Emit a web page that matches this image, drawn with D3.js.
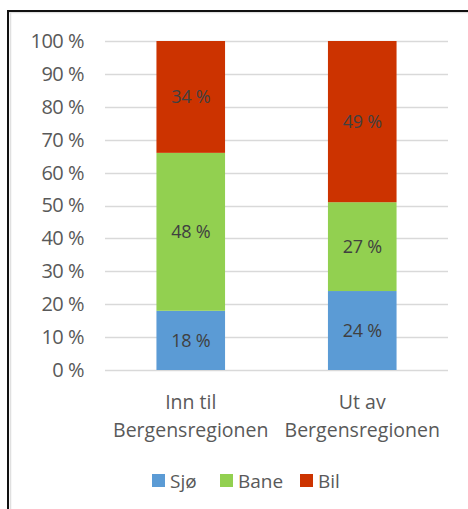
<!DOCTYPE html>
<html>
<head>
<meta charset="utf-8">
<script src="https://cdn.jsdelivr.net/npm/d3@7"></script>
<style>
  body { margin: 0; background: #fff; }
  svg { display: block; font-family: "Open Sans", "Noto Sans", sans-serif; }
</style>
</head>
<body>
<div id="app"></div>
<script>
// data
var categories = [["Inn til", "Bergensregionen"], ["Ut av", "Bergensregionen"]]
var series = ["Sjø", "Bane", "Bil"]
var sjo = [18, 24]
var bane = [48, 27]
var bil = [34, 49]
var yTicks = [0, 10, 20, 30, 40, 50, 60, 70, 80, 90, 100]

var colors = { "Sjø": "#5b9bd5", "Bane": "#92d050", "Bil": "#cc3300" }

var width = 468, height = 509
var margin = { top: 41, right: 20, bottom: 139, left: 105 }

var rows = categories.map(function (c, i) {
  return { key: i, "Sjø": sjo[i], "Bane": bane[i], "Bil": bil[i] }
})

var svg = d3.select("#app")
  .append("svg")
  .attr("width", width)
  .attr("height", height)

// frame
svg.append("line").attr("x1", 8).attr("x2", width).attr("y1", 12.5).attr("y2", 12.5)
  .attr("stroke", "#e0e0e0").attr("stroke-width", 1.5)
svg.append("line").attr("x1", 10.5).attr("x2", 10.5).attr("y1", 12).attr("y2", height)
  .attr("stroke", "#e0e0e0").attr("stroke-width", 1.5)
svg.append("line").attr("x1", 7).attr("x2", width).attr("y1", 11).attr("y2", 11)
  .attr("stroke", "#111").attr("stroke-width", 2)
svg.append("line").attr("x1", 8).attr("x2", 8).attr("y1", 10).attr("y2", height)
  .attr("stroke", "#111").attr("stroke-width", 2)

var x = d3.scaleBand()
  .domain(rows.map(function (d) { return d.key }))
  .range([margin.left, width - margin.right])
  .paddingInner(0.6)
  .paddingOuter(0.3)

var y = d3.scaleLinear()
  .domain([0, 100])
  .range([height - margin.bottom, margin.top])

// gridlines
svg.append("g")
  .selectAll("line")
  .data(yTicks)
  .enter()
  .append("line")
  .attr("x1", margin.left)
  .attr("x2", width - margin.right)
  .attr("y1", function (d) { return Math.round(y(d)) + 0.5 })
  .attr("y2", function (d) { return Math.round(y(d)) + 0.5 })
  .attr("stroke", "#d9d9d9")
  .attr("stroke-width", 1.5)

// y axis labels
var yAxis = d3.axisLeft(y)
  .tickValues(yTicks)
  .tickSize(0)
  .tickPadding(0)
  .tickFormat(function (d) { return d + " %" })

svg.append("g")
  .attr("transform", "translate(84,0)")
  .call(yAxis)
  .call(function (g) { g.select(".domain").remove() })
  .selectAll("text")
  .attr("fill", "#595959")
  .style("font-size", "20px")
  .style("font-family", "\"Open Sans\", sans-serif")
  .attr("letter-spacing", "-0.5px")

var stacked = d3.stack().keys(series)(rows)

var layer = svg.selectAll(".layer")
  .data(stacked)
  .enter()
  .append("g")
  .attr("class", "layer")
  .attr("fill", function (d) { return colors[d.key] })

layer.selectAll("rect")
  .data(function (d) { return d })
  .enter()
  .append("rect")
  .attr("x", function (d) { return x(d.data.key) })
  .attr("width", x.bandwidth())
  .attr("y", function (d) { return y(d[1]) })
  .attr("height", function (d) { return y(d[0]) - y(d[1]) })

// data labels
layer.selectAll("text")
  .data(function (d) { return d })
  .enter()
  .append("text")
  .attr("x", function (d) { return x(d.data.key) + x.bandwidth() / 2 })
  .attr("y", function (d) { return (y(d[0]) + y(d[1])) / 2 })
  .attr("dy", "0.36em")
  .attr("text-anchor", "middle")
  .attr("fill", "#404040")
  .style("font-size", "18px")
  .attr("letter-spacing", "-0.3px")
  .text(function (d) { return (d[1] - d[0]) + " %" })

// category labels
var cat = svg.append("g")
  .selectAll("text")
  .data(categories)
  .enter()
  .append("text")
  .attr("x", function (d, i) { return x(i) + x.bandwidth() / 2 })
  .attr("y", 409)
  .attr("text-anchor", "middle")
  .attr("fill", "#595959")
  .style("font-size", "19.5px")

cat.selectAll("tspan")
  .data(function (d) { return d })
  .enter()
  .append("tspan")
  .attr("x", function () { return d3.select(this.parentNode).attr("x") })
  .attr("dy", function (d, i) { return i === 0 ? 0 : 28 })
  .text(function (d) { return d })

// legend
var legendX = [152, 220, 300]
var legend = svg.append("g")
  .selectAll("g")
  .data(series)
  .enter()
  .append("g")
  .attr("transform", function (d, i) { return "translate(" + legendX[i] + ",474)" })

legend.append("rect")
  .attr("width", 13)
  .attr("height", 13)
  .attr("fill", function (d) { return colors[d] })

legend.append("text")
  .attr("x", 18)
  .attr("y", 7)
  .attr("dy", "0.36em")
  .attr("fill", "#595959")
  .style("font-size", "19px")
  .text(function (d) { return d })
</script>
</body>
</html>
